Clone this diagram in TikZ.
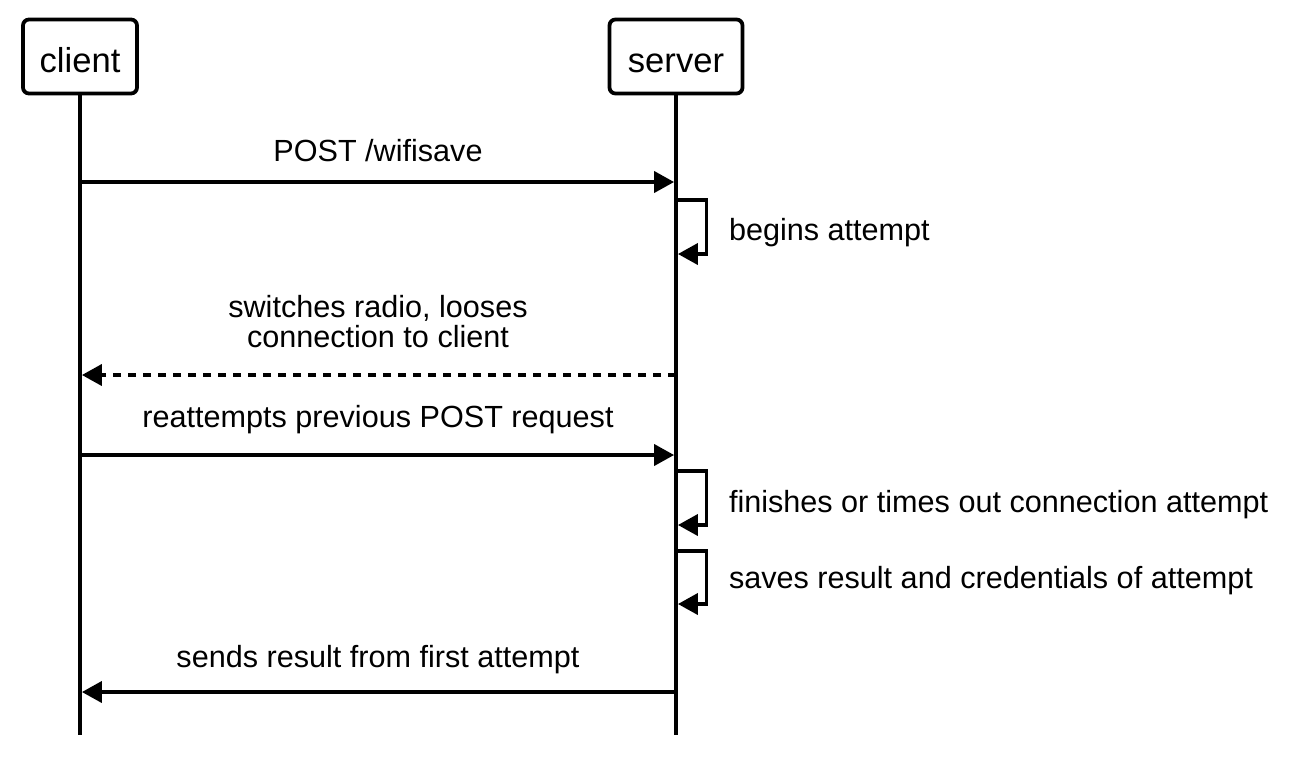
\documentclass[tikz,border=0pt]{standalone}
\usepackage{fontspec}
\setmainfont{Liberation Sans}
\usetikzlibrary{arrows.meta}
\newlength{\du}
\setlength{\du}{0.5pt}
\definecolor{dialinecolor}{rgb}{0.000000, 0.000000, 0.000000}

\begin{document}
\begin{tikzpicture}[
  actor/.style={draw=dialinecolor,fill=white,line width=3.8\du,rounded corners=6\du,
    minimum height=74\du,inner sep=0pt,text height=31\du,text depth=0pt,
    text=dialinecolor,font=\fontsize{17.3pt}{20pt}\selectfont},
  lifeline/.style={draw=dialinecolor,line width=3.8\du},
  msg/.style={draw=dialinecolor,line width=3.8\du,shorten >=1.9\du,
    -{Triangle[length=10pt,width=10.5pt]}},
  lost/.style={msg,dash pattern=on 4pt off 3.5pt},
  msglabel/.style={anchor=base,inner sep=0pt,outer sep=0pt,text=dialinecolor,
    align=center,font=\fontsize{15.3pt}{15pt}\selectfont},
  selflabel/.style={msglabel,anchor=base west,align=left}]
\pgftransformxscale{1.000000}
\pgftransformyscale{-1.000000}
\useasboundingbox (0\du,0\du) rectangle (1294\du,762\du);
% actors
\node[actor,minimum width=114\du] (client) at (80\du,56.5\du) {client};
\node[actor,minimum width=133\du] (server) at (676\du,56.5\du) {server};
\coordinate (clientend) at (80\du,735\du);
\coordinate (serverend) at (676\du,735\du);
\draw[lifeline] (client) -- (clientend);
\draw[lifeline] (server) -- (serverend);
% message points
\coordinate (c1) at (80\du,182\du);
\coordinate (s1) at (676\du,182\du);
\coordinate (s2) at (676\du,200\du);
\coordinate (s3) at (676\du,254\du);
\coordinate (s4) at (676\du,375\du);
\coordinate (c4) at (80\du,375\du);
\coordinate (c5) at (80\du,455\du);
\coordinate (s5) at (676\du,455\du);
\coordinate (s6) at (676\du,471\du);
\coordinate (s7) at (676\du,525\du);
\coordinate (s8) at (676\du,551\du);
\coordinate (s9) at (676\du,604\du);
\coordinate (s10) at (676\du,692\du);
\coordinate (c10) at (80\du,692\du);
\draw[msg] (c1) -- (s1);
\node[msglabel] (post) at (378\du,161\du) {POST /wifisave};
\draw[msg] (s2) -- ++(30.5\du,0) |- (s3);
\node[selflabel] (begins) at (729\du,240\du) {begins attempt};
\draw[lost] (s4) -- (c4);
\node[msglabel] (switches) at (378\du,347\du) {switches radio, looses\\connection to client};
\draw[msg] (c5) -- (s5);
\node[msglabel] (reattempt) at (378\du,427\du) {reattempts previous POST request};
\draw[msg] (s6) -- ++(30.5\du,0) |- (s7);
\node[selflabel] (finishes) at (729\du,512\du) {finishes or times out connection attempt};
\draw[msg] (s8) -- ++(30.5\du,0) |- (s9);
\node[selflabel] (saves) at (729\du,588\du) {saves result and credentials of attempt};
\draw[msg] (s10) -- (c10);
\node[msglabel] (sends) at (378\du,667\du) {sends result from first attempt};
\end{tikzpicture}
\end{document}
